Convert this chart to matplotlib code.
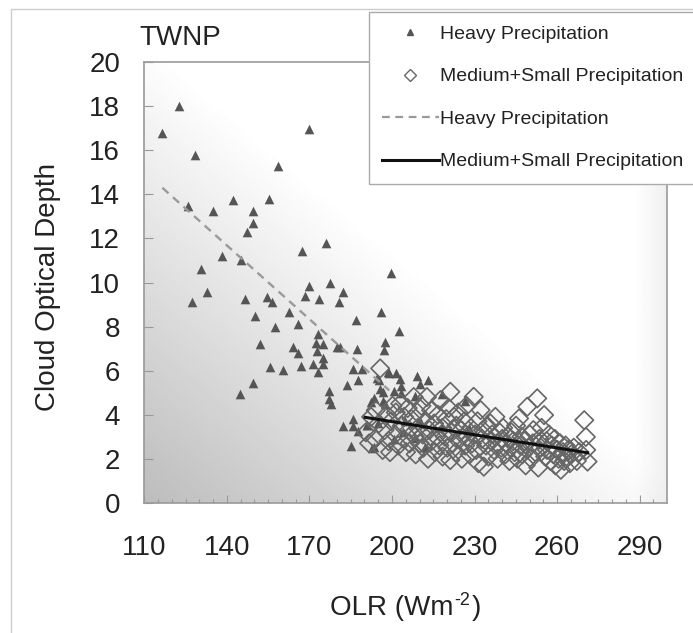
import numpy as np
import matplotlib
matplotlib.use("Agg")
from matplotlib import pyplot as plt
from matplotlib.lines import Line2D
from matplotlib.patches import Rectangle
from matplotlib.transforms import offset_copy

plt.rcParams["font.family"] = ["Liberation Sans", "DejaVu Sans"]

# heavy precipitation points (OLR, cloud optical depth)
heavy_olr = [116.4, 122.5, 128.2, 126.0, 134.9, 142.2, 149.5, 149.5, 147.3, 155.2,
             158.6, 169.7, 138.3, 145.0, 130.5, 132.7, 127.1, 146.7, 154.6, 156.3,
             150.1, 157.4, 162.5, 165.9, 167.4, 169.8, 168.4, 173.6, 175.9, 177.6,
             182.1, 180.9, 187.0, 196.1, 199.6,
             151.9, 173.2, 172.4, 174.9, 172.6, 174.9, 174.9, 171.4, 173.2, 164.1,
             165.9, 167.0, 155.8, 160.2, 179.9, 181.2, 187.2, 197.5, 197.0, 202.7,
             185.7, 189.0, 187.6, 183.6, 177.2, 177.2, 177.8, 149.5, 144.7, 194.5,
             198.5, 201.5, 196.7, 200.6, 192.4, 193.4, 196.9, 182.3, 186.0, 186.0,
             187.6, 190.9, 185.2, 193.3, 195.0,
             209.1, 213.0, 210.3, 203.0, 203.4, 195.7, 197.5, 204.0, 218.2, 226.7,
             200.6, 199.0, 195.1, 203.4, 208.5, 204.8, 210.3, 218.2, 208.5, 212.1,
             227.9, 190.9, 192.9]
heavy_cod = [16.77, 18.0, 15.78, 13.47, 13.26, 13.76, 13.26, 12.70, 12.28, 13.79,
             15.30, 16.96, 11.2, 11.02, 10.62, 9.58, 9.10, 9.23, 9.35, 9.10,
             8.50, 8.0, 8.65, 8.1, 11.42, 9.84, 9.37, 9.23, 11.80, 9.99,
             9.58, 9.10, 8.29, 8.65, 10.43,
             7.21, 7.67, 7.26, 7.21, 6.91, 6.57, 6.31, 6.31, 5.96, 7.06,
             6.79, 6.23, 6.15, 6.03, 7.09, 7.09, 6.98, 7.29, 6.95, 7.81,
             6.08, 6.08, 5.59, 5.35, 5.09, 4.72, 4.50, 5.44, 4.94, 5.65,
             5.96, 5.90, 5.02, 5.09, 4.59, 4.75, 4.64, 3.50, 3.81, 3.50,
             3.28, 3.54, 2.60, 2.52, 3.60,
             5.75, 5.59, 5.40, 5.60, 5.30, 5.17, 4.50, 3.20, 4.94, 4.64,
             2.90, 5.90, 5.57, 4.98, 4.84, 3.72, 3.72, 3.45, 2.93, 2.55,
             3.38, 3.53, 2.47]

# medium + small precipitation points
ms_olr = [190.5, 191.7, 192.4, 193.8, 194.1, 195.2, 195.7, 196.6, 197.3, 198.1, 198.7, 199.3, 199.6, 200.2,
          201.1, 201.4, 202.3, 203.0, 203.6, 204.2, 204.4, 205.1, 205.7, 206.2, 206.4, 207.1, 207.9, 208.3,
          208.6, 209.2, 209.4, 210.1,
          210.7, 211.2, 211.4, 212.3, 212.7, 213.1, 213.6, 214.2, 214.4, 215.3, 215.6, 216.1, 216.7, 217.2,
          217.6, 218.3, 218.4, 219.2, 219.7, 220.1,
          220.6, 221.2, 221.2, 221.7, 222.1, 222.6, 223.2, 223.4, 224.1, 224.7, 225.2, 225.4, 226.3, 226.6,
          227.1, 227.4, 228.2, 228.7, 229.1, 229.7, 230.2,
          230.6, 231.1, 231.4, 232.2, 232.7, 233.1, 233.4, 234.2, 234.6, 235.1, 235.8, 236.2, 236.4, 237.1,
          237.6, 238.2, 238.4, 239.1, 239.7, 240.1,
          240.4, 241.2, 241.6, 242.1, 242.7, 243.2, 243.4, 244.1, 244.6, 245.1, 245.6, 246.2, 246.7, 247.1,
          247.4, 248.2, 248.6, 249.2, 249.7, 250.1,
          250.6, 251.2, 251.4, 252.1, 252.8, 253.2, 253.6, 254.1, 254.4, 255.3, 255.7, 256.2, 256.4, 257.1,
          257.6, 258.1, 258.7, 259.2, 259.4, 260.1,
          260.6, 261.1, 261.4, 262.2, 262.6, 263.1, 263.4, 264.2, 264.7, 265.2, 266.1, 267.2, 268.1, 269.9,
          270.5, 271.1, 270.6]
ms_cod = [3.2, 2.7, 3.9, 2.9, 4.2, 3.6, 6.1, 2.4, 3.3, 4.0, 2.8, 2.3, 3.7, 4.4,
          3.1, 4.1, 2.6, 4.5, 3.5, 2.9, 3.9, 2.3, 4.3, 3.3, 2.7, 3.8, 4.8, 3.0,
          2.2, 4.1, 3.4, 2.7,
          4.4, 3.1, 2.5, 3.7, 4.8, 2.0, 3.3, 4.2, 2.8, 3.6, 2.3, 3.0, 4.0, 2.6,
          4.66, 3.4, 2.1, 3.0, 3.8, 2.5,
          4.3, 5.04, 1.94, 3.2, 2.7, 3.9, 2.3, 3.5, 4.1, 2.9, 3.3, 2.0, 3.7, 2.6,
          4.4, 3.0, 2.2, 3.4, 2.7, 4.81, 3.1,
          2.4, 3.7, 1.8, 4.21, 2.9, 3.3, 1.64, 2.6, 3.5, 2.1, 3.6, 2.8, 3.1, 2.4,
          3.9, 2.7, 2.0, 3.2, 2.5, 2.9,
          3.4, 2.2, 2.7, 3.0, 1.9, 2.5, 3.2, 2.8, 2.3, 3.5, 2.0, 3.83, 2.6, 3.0,
          2.2, 2.8, 1.7, 4.36, 2.5, 3.1,
          2.0, 2.7, 3.3, 2.3, 4.74, 1.6, 2.9, 2.5, 3.4, 3.98, 2.1, 2.8, 2.4, 3.1,
          1.9, 2.6, 2.2, 2.9, 1.7, 2.4,
          2.0, 2.7, 1.5, 2.3, 1.9, 2.6, 2.1, 2.4, 1.8, 2.2, 2.5, 1.9, 2.3, 3.75,
          2.99, 1.87, 2.4]

# fitted trend lines
heavy_fit_olr = [116.5, 199.0]
heavy_fit_cod = [14.3, 5.1]
ms_fit_olr = [190.2, 271.1]
ms_fit_cod = [3.88, 2.27]

x_ticks = [110, 140, 170, 200, 230, 260, 290]
y_ticks = [0, 2, 4, 6, 8, 10, 12, 14, 16, 18, 20]

fig = plt.figure(figsize=(6.93, 6.33), dpi=100)
ax = fig.add_axes([0.2085, 0.2057, 0.754, 0.696])

# gray-to-white diagonal background
n = 300
U, V = np.meshgrid(np.linspace(0, 1, n), np.linspace(0, 1, n))
g = 0.74 + 0.26 * np.clip((U + V) / 1.05, 0, 1)
g = g - 0.06 * np.clip((U - 0.94) / 0.06, 0, 1)
ax.imshow(g, extent=[0, 1, 0, 1], transform=ax.transAxes, origin="lower",
          cmap="gray", vmin=0, vmax=1, aspect="auto", zorder=0, interpolation="bilinear")

ax.scatter(heavy_olr, heavy_cod, marker="^", s=48, color="#555555", linewidths=0, zorder=3)
ax.scatter(ms_olr, ms_cod, marker="D", s=88, facecolors="none", edgecolors="#666666",
           linewidths=1.2, zorder=4)
ax.plot(heavy_fit_olr, heavy_fit_cod, color="#9a9a9a", lw=1.7, ls=(0, (3.5, 2.5)), zorder=5)
ax.plot(ms_fit_olr, ms_fit_cod, color="#111111", lw=2.2, zorder=6)

ax.set_xlim(110, 300)
ax.set_ylim(0, 20)
ax.set_xticks(x_ticks)
ax.set_xticks(np.arange(110, 300, 5), minor=True)
ax.set_yticks(y_ticks)
for s in ax.spines.values():
    s.set_color("#999999")
    s.set_linewidth(1.2)
ax.tick_params(axis="x", which="major", direction="in", length=6, width=0.8,
               color="#999999", pad=23, labelsize=20, labelcolor="#222222")
ax.tick_params(axis="x", which="minor", direction="in", length=3, width=0.8, color="#999999")
ax.tick_params(axis="y", which="major", direction="in", length=6.5, width=0.8,
               color="#999999", pad=17.5, labelsize=20, labelcolor="#222222")

fig.text(48 / 693, 1 - 287 / 633, "Cloud Optical Depth", rotation=90, ha="center",
         va="center", fontsize=20, color="#222222")
fig.text(139 / 693, 1 - 45 / 633, "TWNP", ha="left", va="baseline", fontsize=20,
         color="#222222")

# x label with a plain hyphen superscript: OLR (Wm-2)
renderer = fig.canvas.get_renderer()
base_y = 1 - 615 / 633
t1 = fig.text(330 / 693, base_y, "OLR (Wm", ha="left", va="baseline", fontsize=20,
              color="#222222")
w1 = t1.get_window_extent(renderer).width
t2 = fig.text(0, 0, "-2", ha="left", va="baseline", fontsize=13, color="#222222",
              transform=offset_copy(t1.get_transform(), fig=fig, x=w1 + 1, y=10, units="dots"))
t2.set_position((330 / 693, base_y))
w2 = t2.get_window_extent(renderer).width
fig.text(330 / 693, base_y, ")", ha="left", va="baseline", fontsize=20, color="#222222",
         transform=offset_copy(t1.get_transform(), fig=fig, x=w1 + w2 + 2, y=0, units="dots"))

# outer frame
fig.patches.append(Rectangle((11 / 693, -0.1), 1.2, 1.1 - 9 / 633, transform=fig.transFigure,
                             fill=False, edgecolor="#cccccc", lw=1.0))

handles = [
    Line2D([], [], marker="^", color="#555555", ls="none", markersize=5),
    Line2D([], [], marker="D", mfc="none", mec="#666666", ls="none", markersize=6, mew=1.0),
    Line2D([], [], color="#9a9a9a", lw=1.6, ls=(0, (3.5, 2.5))),
    Line2D([], [], color="#111111", lw=2.2),
]
labels = ["Heavy Precipitation", "Medium+Small Precipitation",
          "Heavy Precipitation", "Medium+Small Precipitation"]
leg = fig.legend(handles, labels, loc="upper left", bbox_to_anchor=(369 / 693, 1 - 12 / 633),
                 bbox_transform=fig.transFigure, frameon=True, fancybox=False,
                 edgecolor="#aaaaaa", framealpha=1, fontsize=14, handlelength=2.9,
                 handletextpad=0.08, labelspacing=1.28, borderpad=0.68, borderaxespad=0)
leg.get_frame().set_linewidth(1.0)
for t in leg.get_texts():
    t.set_color("#222222")

plt.savefig("out.png", dpi=100)
